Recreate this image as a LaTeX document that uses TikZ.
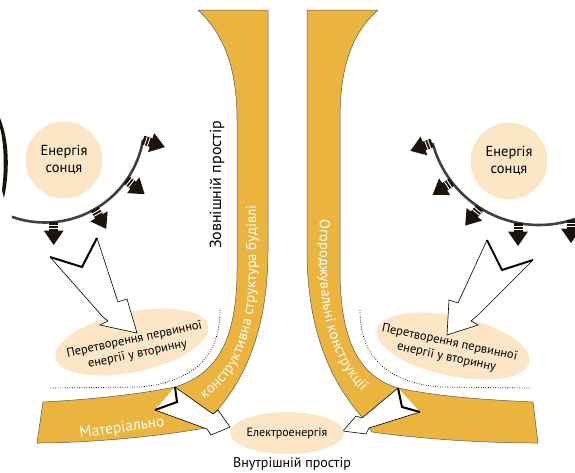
\documentclass[tikz,border=0pt]{standalone}
\usepackage{fontspec}
\setmainfont{PT Sans}
\usepackage{tikz}
\usetikzlibrary{positioning, decorations.text, shapes.geometric}
\definecolor{bandcol}{HTML}{EBB43F}
\definecolor{beige}{HTML}{FCE6C6}
\definecolor{raycol}{HTML}{1C1309}
\tikzset{band/.style={
        fill=bandcol,
        draw=black!65,
        line width=0.5pt
}}
\tikzset{sun/.style={
        circle,
        fill=beige,
        minimum size=77pt,
        inner sep=0pt,
        align=center,
        font=\fontsize{14.5}{17}\selectfont
}}
\tikzset{blobtext/.style={
        inner sep=0pt,
        align=center,
        font=\fontsize{12.5}{15}\selectfont
}}
\tikzset{arcline/.style={draw=black!75, line width=2.6pt}}
\tikzset{hollowarrow/.style={fill=white, draw=black, line width=0.6pt}}
\tikzset{notch/.style={draw=black, line width=2pt, line join=miter}}
\tikzset{dotline/.style={draw=black, line width=0.7pt, dash pattern=on 0.8pt off 1.6pt}}
\tikzset{bandtext/.style={decorate, decoration={text along path, text color=white, text align=center, raise=-3.7pt}}}
\tikzset{ray/.pic={
        \fill[raycol] (0,-4.5) rectangle (9,4.5);
        \draw[white, line width=0.9pt] (3,-4.5) -- (3,4.5) (6,-4.5) -- (6,4.5);
        \fill[raycol] (8.5,-10) -- (23,0) -- (8.5,10) -- cycle;
}}

\begin{document}
\begin{tikzpicture}[x=1pt, y=-1pt]
\useasboundingbox (0,0) rectangle (575,472);

\draw[band] (198,10) -- (268,10) -- (268,250) .. controls (268,320) and (250,375) .. (213,415) -- (205,428) .. controls (150,438) and (80,443) .. (37,443) -- (43,402) .. controls (80,400) and (130,396) .. (175,387) .. controls (210,376) and (237,350) .. (237,270) -- (237,120) .. controls (237,70) and (225,35) .. (198,10) -- cycle;
\draw[band] (378,10) -- (307,10) -- (307,250) .. controls (307,320) and (325,375) .. (362,417) -- (372,432) .. controls (430,440) and (490,443) .. (538,443) -- (533,402) .. controls (490,400) and (440,397) .. (398,388) .. controls (365,378) and (340,350) .. (340,270) -- (340,120) .. controls (340,70) and (350,35) .. (378,10) -- cycle;

\path[bandtext, decoration={text={|\fontsize{14.5}{14.5}\selectfont|конструктивна структура будівлі}}] (193,401) .. controls (228,384) and (252.5,345) .. (252.5,265) -- (252.5,195);
\path[bandtext, decoration={text={|\fontsize{14.5}{14.5}\selectfont|Огороджувальні конструкції}}] (323.5,198) -- (323.5,260) .. controls (323.5,335) and (345,376) .. (381,403);
\node[rotate=8, text=white, font=\fontsize{15.5}{15.5}\selectfont] (mat) at (122,428) {Матеріально};

\draw[dotline] (220,310) .. controls (220,355) and (195,382) .. (140,387) -- (50,388);
\draw[dotline] (360,310) .. controls (360,355) and (385,382) .. (440,387) -- (530,388);

\fill[beige, rotate around={12:(132,342)}] (132,342) ellipse (78 and 30);
\fill[beige, rotate around={-12:(453,346)}] (453,346) ellipse (78 and 30);
\node[blobtext, rotate=12] (convL) at (136,347) {Перетворення первинної\\енергії у вторинну};
\node[blobtext, rotate=-12] (convR) at (448,350) {Перетворення первинної\\енергії у вторинну};

\fill[raycol] (0,118) .. controls (9,140) and (10,170) .. (4,198) -- (2,190) .. controls (5,168) and (4,142) .. (0,128) -- cycle;

\draw[arcline] (45,123) ++(9.7:99.5) arc (9.7:109.4:99.5);
\draw[arcline] (539,115) ++(165.3:110) arc (165.3:70:110);
\pic[rotate=-18] at (143,140) {ray};
\pic[rotate=-38] at (126.5,180) {ray};
\pic[rotate=-60] at (94.7,209) {ray};
\pic[rotate=-90] at (53.7,222) {ray};
\pic[rotate=-160] at (432,143) {ray};
\pic[rotate=-146] at (451.7,182) {ray};
\pic[rotate=-129] at (479.7,207.7) {ray};
\pic[rotate=-90] at (518,223) {ray};
\pic[rotate=-90] at (571,220) {ray};

\node[sun] (sunL) at (64,160) {Енергія\\сонця};
\node[sun] (sunR) at (509,161) {Енергія\\сонця};

\draw[hollowarrow] (97,238) -- (118,302) -- (127,299) -- (137,333) -- (100,325) -- (108,321) -- (103,317) -- (50,257);
\draw[notch] (50,257) -- (82,267) -- (97,238);
\draw[hollowarrow] (487,240) -- (458,303) -- (449,300) -- (447,335) -- (478,325) -- (471,321) -- (477,316) -- (533,260);
\draw[notch] (533,260) -- (502,270) -- (487,240);

\draw[hollowarrow] (175,387) -- (213,414) -- (218,410) -- (230,427) -- (211,435) -- (207,429) -- (155,410);
\draw[notch] (155,410) -- (177,402) -- (175,387);
\draw[hollowarrow] (398,388) -- (362,418) -- (356,416) -- (343,431) -- (366,434) -- (369,428) -- (420,412);
\draw[notch] (420,412) -- (402,407) -- (398,388);

\node[ellipse, fill=beige, minimum width=114pt, minimum height=42pt, inner sep=0pt, font=\fontsize{12}{12}\selectfont] (elec) at (287,433) {Електроенергія};
\node[font=\fontsize{14}{14}\selectfont] (inside) at (292,464) {Внутрішній простір};
\node[rotate=90, font=\fontsize{16}{16}\selectfont] (outside) at (217,185) {Зовнішній простір};
\end{tikzpicture}
\end{document}
